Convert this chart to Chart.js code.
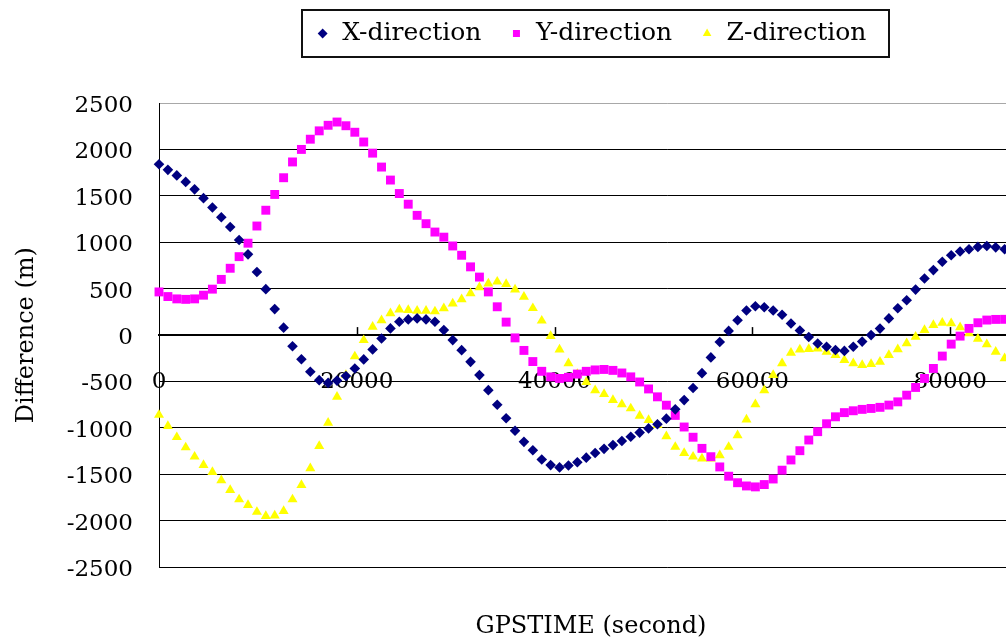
<!DOCTYPE html>
<html>
<head>
<meta charset="utf-8">
<script src="https://cdn.jsdelivr.net/npm/chart.js@4.4.1/dist/chart.umd.min.js"></script>
<style>
  html, body { margin: 0; padding: 0; background: #ffffff; overflow: hidden; width: 1006px; height: 641px; }
  #wrap { width: 1182px; height: 641px; }
</style>
</head>
<body>
<div id="wrap"><canvas id="c" width="1182" height="641"></canvas></div>
<script>
const GPSTIME = [0,900,1800,2700,3600,4500,5400,6300,7200,8100,
  9000,9900,10800,11700,12600,13500,14400,15300,16200,17100,
  18000,18900,19800,20700,21600,22500,23400,24300,25200,26100,
  27000,27900,28800,29700,30600,31500,32400,33300,34200,35100,
  36000,36900,37800,38700,39600,40500,41400,42300,43200,44100,
  45000,45900,46800,47700,48600,49500,50400,51300,52200,53100,
  54000,54900,55800,56700,57600,58500,59400,60300,61200,62100,
  63000,63900,64800,65700,66600,67500,68400,69300,70200,71100,
  72000,72900,73800,74700,75600,76500,77400,78300,79200,80100,
  81000,81900,82800,83700,84600,85500];

const X_DIRECTION = [1840,1780,1720,1650,1570,1475,1375,1270,1165,1025,
  870,680,495,280,80,-120,-260,-395,-485,-515,
  -490,-440,-360,-262,-154,-36,72,143,169,180,
  169,143,54,-54,-162,-288,-431,-593,-750,-895,
  -1030,-1150,-1240,-1340,-1400,-1425,-1405,-1370,-1320,-1270,
  -1225,-1185,-1140,-1095,-1050,-1005,-960,-900,-800,-700,
  -570,-410,-240,-75,45,160,265,310,300,265,
  220,125,50,-20,-90,-125,-160,-170,-125,-70,
  0,70,180,290,375,490,610,700,790,860,
  900,925,950,960,945,925];

const Y_DIRECTION = [465,415,390,385,390,430,495,600,720,845,
  990,1175,1345,1515,1695,1865,2000,2110,2200,2260,
  2295,2255,2185,2080,1960,1810,1670,1525,1410,1290,
  1200,1110,1055,960,860,735,625,465,305,140,
  -30,-165,-285,-390,-450,-467,-455,-420,-390,-375,
  -370,-380,-408,-450,-505,-580,-665,-755,-865,-990,
  -1100,-1220,-1310,-1420,-1520,-1590,-1625,-1635,-1610,-1550,
  -1455,-1345,-1245,-1130,-1040,-955,-880,-835,-815,-800,
  -790,-778,-754,-719,-647,-564,-467,-359,-226,-97,
  -11,72,133,162,169,170];

const Z_DIRECTION = [-860,-980,-1100,-1210,-1310,-1400,-1475,-1565,-1670,-1770,
  -1830,-1905,-1950,-1945,-1895,-1770,-1615,-1435,-1195,-945,
  -665,-430,-230,-55,90,160,235,275,270,262,
  262,255,288,340,385,450,515,555,575,550,
  490,413,290,155,-10,-155,-305,-420,-505,-595,
  -635,-700,-745,-790,-870,-915,-970,-1090,-1205,-1270,
  -1310,-1330,-1330,-1295,-1205,-1080,-910,-745,-595,-430,
  -305,-190,-155,-150,-145,-180,-215,-270,-305,-322,
  -312,-288,-216,-154,-89,-18,54,108,133,126,
  83,18,-40,-100,-180,-250];

const SERIES_NAMES = ['X-direction', 'Y-direction', 'Z-direction'];
const X_TICKS = [0, 20000, 40000, 60000, 80000];
const Y_TICKS = [-2500, -2000, -1500, -1000, -500, 0, 500, 1000, 1500, 2000, 2500];

const FONT = "'DejaVu Serif', 'Liberation Serif', serif";

function pts(values) {
  return values.map((v, i) => ({ x: GPSTIME[i], y: v }));
}

const LAYOUT_TOP = -7;
const LEGEND_H = 110;

const helper = {
  id: 'helper',
  beforeLayout(chart) {
    const lg = chart.legend;
    if (lg && !lg.__fixed) {
      const orig = lg.fit.bind(lg);
      lg.fit = function () { orig(); this.height = LEGEND_H; };
      lg.__fixed = true;
    }
  },
  afterDraw(chart) {
    const ctx = chart.ctx;
    const lg = chart.legend;
    if (lg && lg.legendHitBoxes && lg.legendHitBoxes.length) {
      const hb = lg.legendHitBoxes;
      let l = Infinity, r = -Infinity, t = Infinity, b = -Infinity;
      hb.forEach(h => {
        l = Math.min(l, h.left); r = Math.max(r, h.left + h.width);
        t = Math.min(t, h.top); b = Math.max(b, h.top + h.height);
      });
      const cy = (t + b) / 2;
      ctx.save();
      ctx.strokeStyle = '#111';
      ctx.lineWidth = 2;
      const bl = Math.round(l - 14), br = Math.round(r + 23);
      const bt = Math.round(cy - 23.5), bb = Math.round(cy + 23.5);
      ctx.strokeRect(bl, bt, br - bl, bb - bt);
      ctx.restore();
    }
    const xs = chart.scales.x, ys = chart.scales.y;
    const y0 = ys.getPixelForValue(0);
    ctx.save();
    ctx.strokeStyle = '#000';
    ctx.lineWidth = 1.5;
    X_TICKS.forEach(v => {
      if (v === 0) return;
      const px = Math.round(xs.getPixelForValue(v)) + 0.5;
      ctx.beginPath();
      ctx.moveTo(px, y0 - 8);
      ctx.lineTo(px, y0);
      ctx.stroke();
    });
    ctx.restore();
  }
};

const chart = new Chart(document.getElementById('c'), {
  type: 'scatter',
  data: {
    datasets: [
      { label: SERIES_NAMES[0], data: pts(X_DIRECTION), pointStyle: 'rectRot', pointRadius: 5.3,
        backgroundColor: '#000080', borderColor: '#000080', pointBorderWidth: 0, clip: false },
      { label: SERIES_NAMES[1], data: pts(Y_DIRECTION), pointStyle: 'rect', pointRadius: 6.3,
        backgroundColor: '#ff00ff', borderColor: '#ff00ff', pointBorderWidth: 0, clip: false },
      { label: SERIES_NAMES[2], data: pts(Z_DIRECTION), pointStyle: 'triangle', pointRadius: 5.8,
        backgroundColor: '#ffff00', borderColor: '#ffff00', pointBorderWidth: 0, clip: false }
    ]
  },
  options: {
    responsive: false,
    animation: false,
    devicePixelRatio: 1,
    layout: { padding: { top: LAYOUT_TOP, left: 0, right: 0, bottom: 0 } },
    plugins: {
      tooltip: { enabled: false },
      legend: {
        display: true,
        position: 'top',
        labels: {
          usePointStyle: true,
          boxWidth: 14,
          boxHeight: 7,
          padding: 28,
          color: '#000',
          font: { family: FONT, size: 25 }
        }
      },
      title: {
        display: true,
        position: 'bottom',
        text: 'GPSTIME (second)',
        color: '#000',
        font: { family: FONT, size: 24, weight: 'normal' },
        padding: { top: 45, bottom: 0 }
      }
    },
    scales: {
      x: {
        type: 'linear',
        position: { y: 0 },
        min: 0,
        max: 102800,
        afterBuildTicks(scale) { scale.ticks = X_TICKS.map(v => ({ value: v })); },
        ticks: {
          autoSkip: false,
          maxRotation: 0,
          padding: 33,
          color: '#000',
          font: { family: FONT, size: 23 },
          callback: v => String(v)
        },
        grid: { display: true, drawOnChartArea: false, drawTicks: false },
        border: { display: true, color: '#000', width: 2 }
      },
      y: {
        type: 'linear',
        position: 'left',
        min: -2500,
        max: 2500,
        afterBuildTicks(scale) { scale.ticks = Y_TICKS.map(v => ({ value: v })); },
        afterFit(scale) { scale.width = 159; },
        ticks: {
          padding: 26,
          labelOffset: 3,
          color: '#000',
          font: { family: FONT, size: 23 },
          callback: v => String(v)
        },
        grid: {
          drawTicks: false,
          lineWidth: 1,
          color: c => (c.tick && c.tick.value === 2500) ? '#a8a8a8' : '#000'
        },
        border: { display: true, color: '#000', width: 1 },
        title: {
          display: true,
          text: 'Difference (m)',
          color: '#000',
          font: { family: FONT, size: 24 },
          padding: { top: 12, bottom: 0 }
        }
      }
    }
  },
  plugins: [helper]
});
</script>
</body>
</html>
